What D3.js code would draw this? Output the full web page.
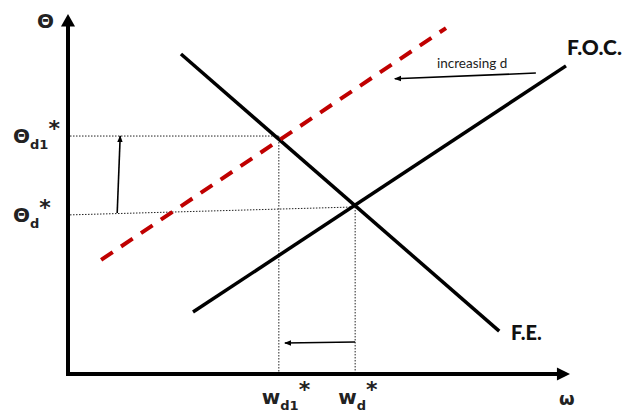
<!DOCTYPE html>
<html><head><meta charset="utf-8">
<script src="https://cdn.jsdelivr.net/npm/d3@7"></script>
<style>body{margin:0;background:#fff}svg{display:block}</style>
</head><body>
<svg id="c" width="628" height="413"></svg>
<script>
// Data (abstract units: x 0..100, y 0..100)
const feLine = [[22.5, 88.9], [85.9, 11.9]];
const focLine = [[24.9, 17.2], [99.2, 85.6]];
const shiftedLine = [[6.6, 31.7], [75.3, 96.1]];
const eqPoint = [57.2, 46.4];
const eq1Point = [42.0, 66.1];
const thetaDLeft = [0.4, 44.2];
const curveLabels = ["F.O.C.", "F.E."];
const yTickLabels = [{base: "Θ", sub: "d1", val: 66.1}, {base: "Θ", sub: "d", val: 44.2}];
const xTickLabels = [{base: "w", sub: "d1", val: 42.0}, {base: "w", sub: "d", val: 57.2}];
const annotation = "increasing d";

const svg = d3.select("#c");
const x = d3.scaleLinear().domain([0, 100]).range([68, 570]);
const y = d3.scaleLinear().domain([0, 100]).range([374, 14]);
const line = d3.line().x(d => x(d[0])).y(d => y(d[1]));

const defs = svg.append("defs");
defs.append("marker").attr("id", "ah").attr("viewBox", "0 0 10 10").attr("refX", 9).attr("refY", 5)
  .attr("markerWidth", 7).attr("markerHeight", 7).attr("orient", "auto-start-reverse").attr("markerUnits", "userSpaceOnUse")
  .append("path").attr("d", "M0,1 L10,5 L0,9 Z").attr("fill", "#000");

// dotted guides
const dot = g => g.attr("stroke", "#222").attr("stroke-width", 1).attr("stroke-dasharray", "1.5,1.5").attr("fill", "none");
svg.append("path").attr("d", line([[0.4, eq1Point[1]], eq1Point])).call(dot);
svg.append("path").attr("d", line([[eq1Point[0], eq1Point[1]], [eq1Point[0], 0]])).call(dot);
svg.append("path").attr("d", line([thetaDLeft, eqPoint])).call(dot);
svg.append("path").attr("d", line([[eqPoint[0], eqPoint[1]], [eqPoint[0], 0]])).call(dot);

// curves
svg.append("path").attr("d", line(feLine)).attr("stroke", "#000").attr("stroke-width", 3.5).attr("fill", "none");
svg.append("path").attr("d", line(focLine)).attr("stroke", "#000").attr("stroke-width", 3.5).attr("fill", "none");
svg.append("path").attr("d", line(shiftedLine)).attr("stroke", "#c00000").attr("stroke-width", 4)
  .attr("stroke-dasharray", "14,10").attr("fill", "none");

// axes
svg.append("line").attr("x1", x(0)).attr("y1", y(0) + 2).attr("x2", x(0)).attr("y2", y(97)).attr("stroke", "#000").attr("stroke-width", 4);
svg.append("line").attr("x1", x(0) - 2).attr("y1", y(0)).attr("x2", x(97.5)).attr("y2", y(0)).attr("stroke", "#000").attr("stroke-width", 4);
svg.append("path").attr("d", `M${x(0)-7},${y(96.5)} L${x(0)},${y(100)} L${x(0)+7},${y(96.5)} Z`).attr("fill", "#000");
svg.append("path").attr("d", `M${x(97.4)},${y(0)-6.5} L${x(100)},${y(0)} L${x(97.4)},${y(0)+6.5} Z`).attr("fill", "#000");

// arrows
const arr = (p1, p2) => svg.append("path").attr("d", line([p1, p2])).attr("stroke", "#000").attr("stroke-width", 1.6)
  .attr("fill", "none").attr("marker-end", "url(#ah)");
arr([9.8, 44.7], [10.4, 66.1]);
arr([57.2, 8.9], [43.2, 8.6]);
arr([93.2, 83.6], [65.1, 82.0]);

// labels
const bold = "'DejaVu Sans', Verdana, sans-serif";
const lbl = (sel, base, sub, bsize, ssize) => {
  sel.append("tspan").text(base).attr("font-size", bsize);
  sel.append("tspan").text(sub).attr("font-size", ssize).attr("dy", 6);
  sel.append("tspan").text("*").attr("font-size", bsize + 2).attr("dy", -13);
};
yTickLabels.forEach(t => {
  const tx = svg.append("text").attr("x", 13).attr("y", y(t.val) + 7).attr("font-family", bold).attr("font-weight", "bold").attr("fill", "#222");
  lbl(tx, t.base, t.sub, 20, 13);
});
xTickLabels.forEach(t => {
  const tx = svg.append("text").attr("x", x(t.val) - 17).attr("y", 404).attr("font-family", bold).attr("font-weight", "bold").attr("fill", "#222");
  lbl(tx, t.base, t.sub, 20, 13);
});
svg.append("text").attr("x", 37).attr("y", 28).attr("font-family", bold).attr("font-weight", "bold").attr("font-size", 20).attr("fill", "#222").text("Θ");
svg.append("text").attr("x", 559).attr("y", 405).attr("font-family", bold).attr("font-weight", "bold").attr("font-size", 18).attr("fill", "#222").text("ω");

const cal = "Lato, 'Open Sans', sans-serif";
svg.append("text").attr("x", 567).attr("y", 55).attr("font-family", cal).attr("font-weight", "900").attr("font-size", 21).attr("fill", "#111").text(curveLabels[0]);
svg.append("text").attr("x", 511).attr("y", 340).attr("font-family", cal).attr("font-weight", "900").attr("font-size", 20).attr("fill", "#111").text(curveLabels[1]);
svg.append("text").attr("x", 437).attr("y", 68).attr("font-family", cal).attr("font-size", 13.5).attr("fill", "#222").text(annotation);
</script>
</body></html>
